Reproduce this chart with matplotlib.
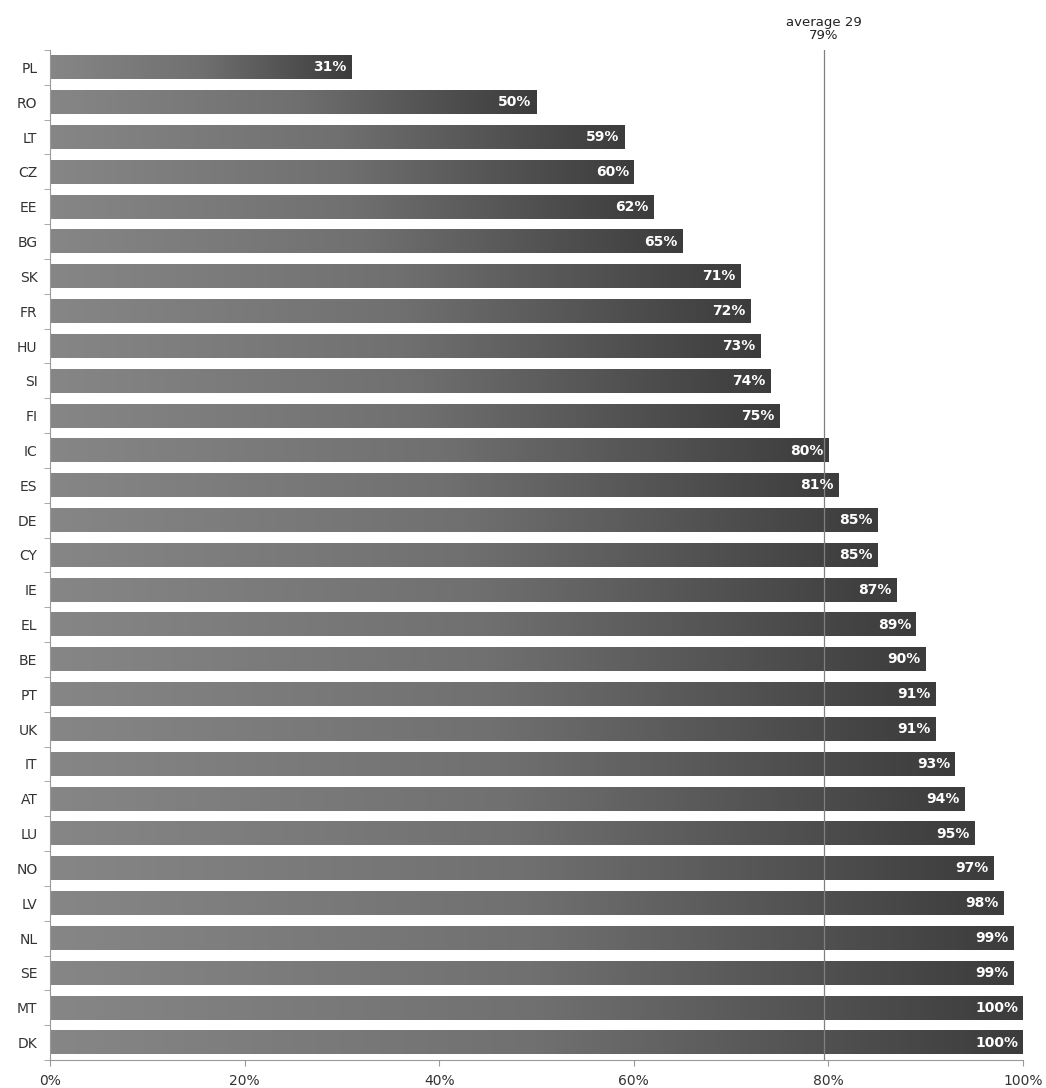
import numpy as np
import matplotlib
matplotlib.use('Agg')
import matplotlib.pyplot as plt
from matplotlib.colors import LinearSegmentedColormap

countries = ['PL', 'RO', 'LT', 'CZ', 'EE', 'BG', 'SK', 'FR', 'HU', 'SI', 'FI', 'IC', 'ES', 'DE', 'CY',
             'IE', 'EL', 'BE', 'PT', 'UK', 'IT', 'AT', 'LU', 'NO', 'LV', 'NL', 'SE', 'MT', 'DK']
values = [31, 50, 59, 60, 62, 65, 71, 72, 73, 74, 75, 80, 81, 85, 85,
          87, 89, 90, 91, 91, 93, 94, 95, 97, 98, 99, 99, 100, 100]
average_pos = 79.5
average_label = 'average 29\n79%'
x_ticks = [0, 20, 40, 60, 80, 100]


def draw_chart():
    fig = plt.figure(figsize=(10.46, 10.88), dpi=100)
    ax = fig.add_axes([50 / 1046, 28 / 1088, 973 / 1046, 1010 / 1088])

    cmap = LinearSegmentedColormap.from_list('bar', ['#868686', '#707070', '#3c3c3c'])
    grad = np.linspace(0, 1, 256).reshape(1, -1)
    bar_h = 0.68

    for i, (c, v) in enumerate(zip(countries, values)):
        # gradient fill from left (light) to right (dark)
        ax.imshow(grad, cmap=cmap, aspect='auto', interpolation='bicubic',
                  extent=(0, v, i + bar_h / 2, i - bar_h / 2), zorder=2)
        ax.text(v - 0.5, i, f'{v}%', ha='right', va='center', color='white',
                fontsize=10, fontweight='bold', zorder=4)

    ax.axvline(average_pos, color='#808080', lw=0.9, zorder=3)
    ax.text(average_pos, -0.72, average_label, ha='center', va='bottom',
            fontsize=9.5, color='#222222', linespacing=1.0)

    ax.set_xlim(0, 100)
    ax.set_ylim(len(countries) - 0.5, -0.5)
    ax.set_yticks(range(len(countries)))
    ax.set_yticklabels(countries, fontsize=10, color='#333333')
    ax.set_yticks(np.arange(-0.5, len(countries)), minor=True)
    ax.tick_params(axis='y', which='major', length=0, pad=9)
    ax.tick_params(axis='y', which='minor', length=4, color='#999999')
    ax.set_xticks(x_ticks)
    ax.set_xticklabels([f'{t}%' for t in x_ticks], fontsize=10, color='#333333')
    ax.tick_params(axis='x', length=4, color='#999999', pad=6)

    for s in ['top', 'right']:
        ax.spines[s].set_visible(False)
    for s in ['left', 'bottom']:
        ax.spines[s].set_color('#999999')

    fig.savefig('out.png', dpi=100)


draw_chart()
